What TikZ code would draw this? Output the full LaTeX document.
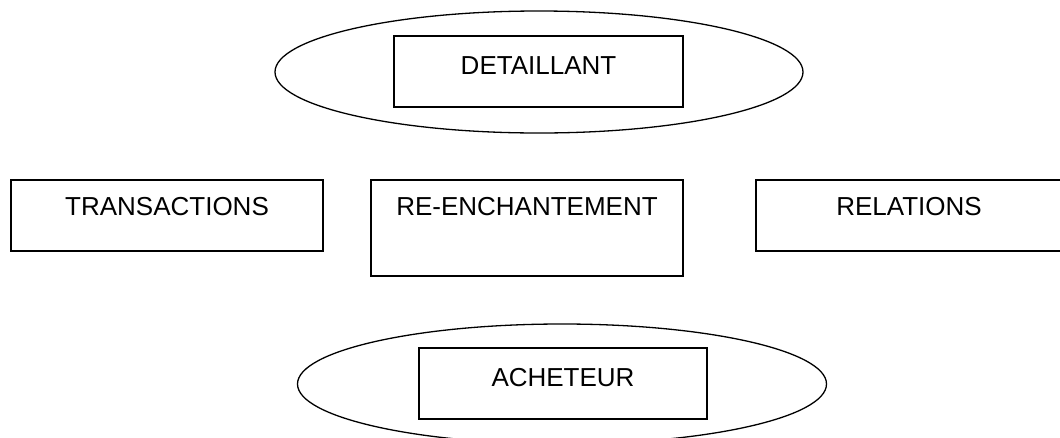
\documentclass[tikz,border=0pt]{standalone}
\usepackage{fontspec}
\setmainfont{Liberation Sans}
\usetikzlibrary{shapes.geometric}
\begin{document}
\begin{tikzpicture}[x=1pt,y=-1pt,
  boxnode/.style={draw=black,line width=1.4pt,rectangle,inner sep=0pt,outer sep=0pt},
  ovalnode/.style={draw=black,line width=1.3pt,ellipse,inner sep=0pt,outer sep=0pt},
  lbl/.style={anchor=base,inner sep=0pt,font=\fontsize{26}{30}\selectfont}]
\clip (0,0) rectangle (1060,437);
\fill[white] (0,0) rectangle (1060,437);
% top ellipse and box
\node[ovalnode,minimum width=528pt,minimum height=122pt] (detoval) at (539,72) {};
\node[boxnode,minimum width=289pt,minimum height=71pt] (det) at (538.5,71.5) {};
\node[lbl] (dett) at ([yshift=-38pt]det.north) {DETAILLANT};
% middle row
\node[boxnode,minimum width=312pt,minimum height=71pt] (tr) at (167,215.5) {};
\node[lbl] (trt) at ([yshift=-35.5pt]tr.north) {TRANSACTIONS};
\node[boxnode,minimum width=312pt,minimum height=96pt] (re) at (527,228) {};
\node[lbl] (ret) at ([yshift=-35.5pt]re.north) {RE-ENCHANTEMENT};
\node[boxnode,minimum width=306pt,minimum height=71pt] (rel) at (909,215.5) {};
\node[lbl] (relt) at ([yshift=-35.5pt]rel.north) {RELATIONS};
% bottom ellipse and box
\node[ovalnode,minimum width=529pt,minimum height=120pt] (achoval) at (562,384) {};
\node[boxnode,minimum width=288pt,minimum height=71pt] (ach) at (563,383.5) {};
\node[lbl] (acht) at ([yshift=-38pt]ach.north) {ACHETEUR};
\end{tikzpicture}
\end{document}
